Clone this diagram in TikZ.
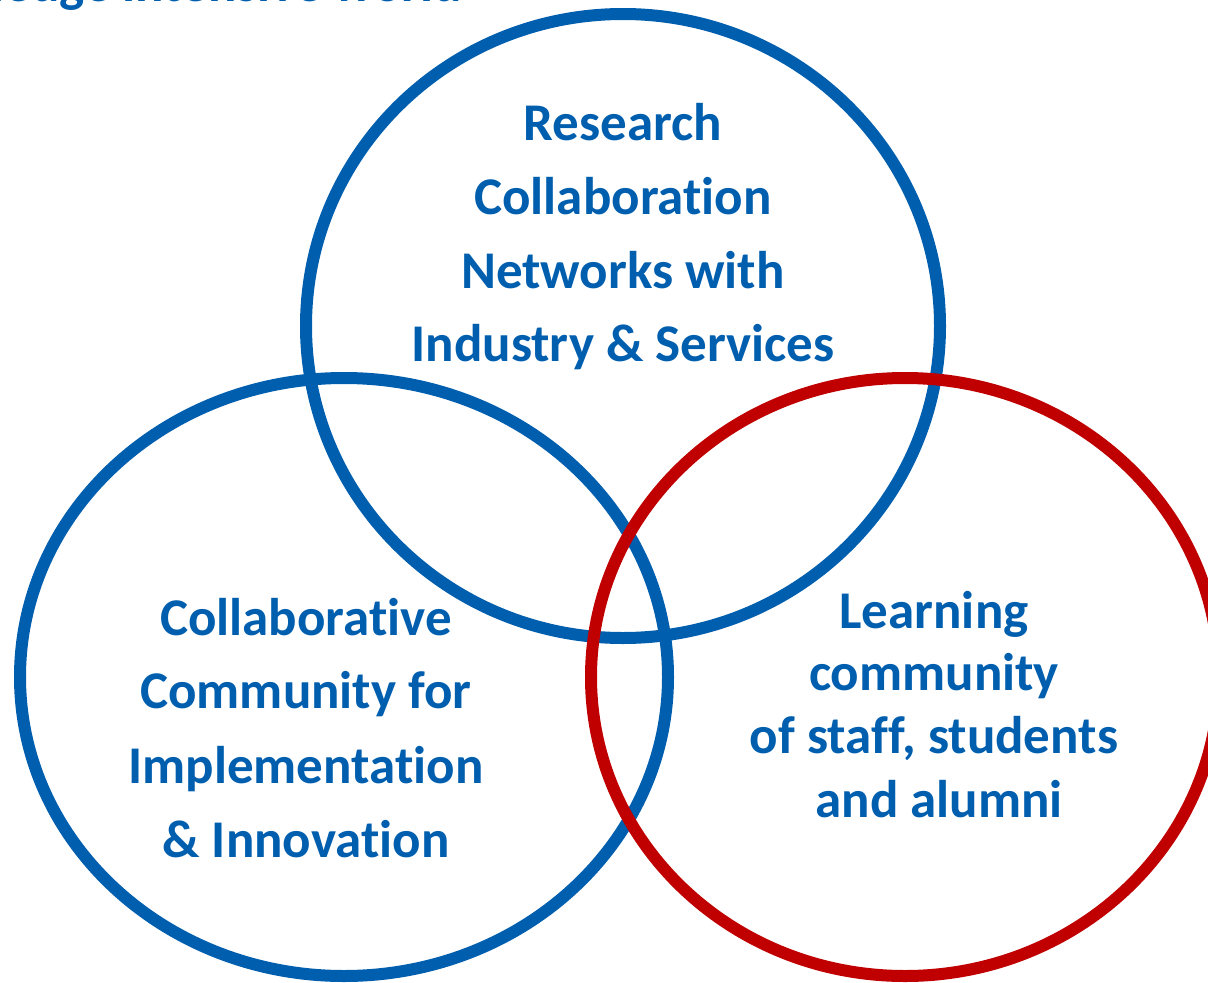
\documentclass[tikz,border=0pt]{standalone}
\usepackage{fontspec}
\setmainfont{Carlito}[Ligatures=CommonOff]
\definecolor{vblue}{RGB}{0,94,174}
\definecolor{vred}{RGB}{192,0,0}
\begin{document}
\begin{tikzpicture}[x=1pt,y=-1pt,
  ring/.style={line width=12pt},
  lbl/.style={anchor=base,inner sep=0pt,text=vblue,font=\fontsize{53}{53}\selectfont\bfseries}]
\useasboundingbox (0,0) rectangle (1208,983);
\clip (0,0) rectangle (1208,983);
\node[lbl,anchor=base east] (hdr) at (462,1) {knowledge intensive world};
\draw[ring,vblue] (623,326) ellipse [x radius=317pt, y radius=312pt];
\draw[ring,vblue] (344,677) ellipse [x radius=324pt, y radius=299pt];
\draw[ring,vred] (905,677) ellipse [x radius=314pt, y radius=299pt];
\node[lbl] (t1) at (623,140) {Research};
\node[lbl] (t2) at (623,214) {Collaboration};
\node[lbl] (t3) at (623,288) {Networks with};
\node[lbl] (t4) at (623,361) {Industry \& Services};
\node[lbl] (l1) at (306,635) {Collaborative};
\node[lbl] (l2) at (306,708) {Community for};
\node[lbl] (l3) at (306,783) {Implementation};
\node[lbl] (l4) at (306,857) {\& Innovation};
\node[lbl] (r1) at (934,628) {Learning};
\node[lbl] (r2) at (934,690) {community};
\node[lbl] (r3) at (934,753) {of staff, students};
\node[lbl] (r4) at (939,817) {and alumni};
\end{tikzpicture}
\end{document}
